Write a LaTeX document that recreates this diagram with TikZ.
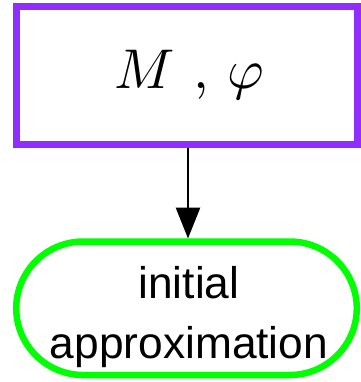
\documentclass[tikz,border=0pt]{standalone}
\usepackage{graphicx}
\usepackage{fontspec}
\newfontfamily\labelfont{Liberation Sans}
\usetikzlibrary{arrows.meta}
\definecolor{boxpurple}{RGB}{145,45,255}
\definecolor{termgreen}{RGB}{0,255,0}
\tikzset{
  boxline/.style={draw=boxpurple, line width=6.5pt},
  termline/.style={draw=termgreen, line width=6.5pt},
  conn/.style={draw=black, line width=2.8pt, -{Triangle[length=31pt,width=24pt]}},
}
\begin{document}
\begin{tikzpicture}[x=1pt,y=1pt]
\useasboundingbox (0,0) rectangle (360,-382);
\draw[boxline] (16.7,-6.7) rectangle (357.3,-144.5);
\draw[termline, rounded corners=67pt] (16.2,-241.5) rectangle (356.8,-375);
\coordinate (top) at (188,-147.7);
\coordinate (bot) at (188,-238.5);
\node[anchor=base, inner sep=0pt] (t1) at (189,-89) {\scalebox{5.6}{\fontsize{10}{12}\selectfont $M$ , $\varphi$}};
\node[anchor=base, inner sep=0pt] (l1) at (189,-298) {\labelfont\fontsize{44.3}{60}\selectfont initial};
\node[anchor=base, inner sep=0pt] (l2) at (189,-358) {\labelfont\fontsize{44.3}{60}\selectfont approximation};
\draw[conn] (top) -- (bot);
\end{tikzpicture}
\end{document}
